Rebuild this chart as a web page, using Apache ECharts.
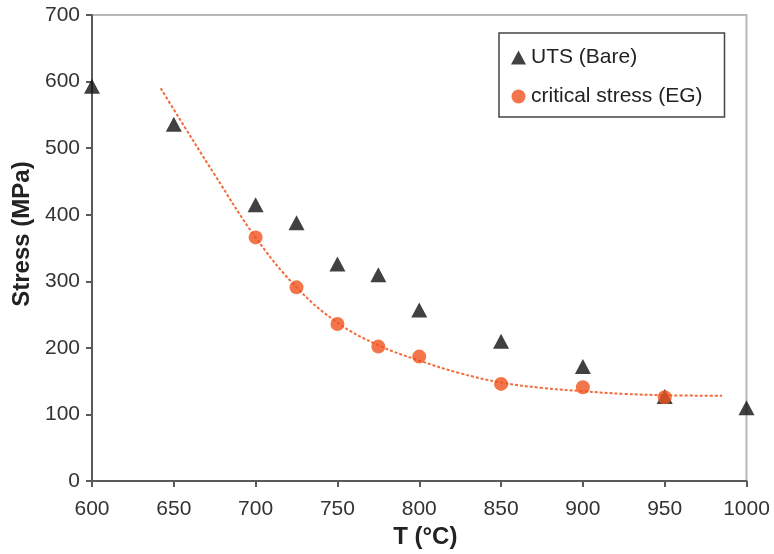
<!DOCTYPE html>
<html>
<head>
<meta charset="utf-8">
<title>Stress vs temperature</title>
<script src="https://cdn.jsdelivr.net/npm/echarts@6/dist/echarts.min.js"></script>
<style>
  html, body { margin: 0; padding: 0; background: #fff; }
  #chart { width: 774px; height: 554px; }
</style>
</head>
<body>
<div id="chart"></div>
<script>
// Temperatures (°C) and measured stresses (MPa)
const utsTemps = [600, 650, 700, 725, 750, 775, 800, 850, 900, 950, 1000];
const utsBare = [593, 536, 415, 388, 326, 310, 257, 210, 172, 127, 110];

const critTemps = [700, 725, 750, 775, 800, 850, 900, 950];
const critStressEG = [366, 291, 236, 202, 187, 146, 141, 126];

// Trend curve through the critical stress points
const trendTemps = [642, 650, 675, 700, 725, 750, 775, 800, 825, 850, 875, 900, 925, 950, 985];
const trendStress = [590, 558, 460, 366, 291, 238, 204, 181, 162, 148, 140, 135, 131, 129, 128];

const xTicks = { min: 600, max: 1000, step: 50 };
const yTicks = { min: 0, max: 700, step: 100 };

const zip = (xs, ys) => xs.map((x, i) => [x, ys[i]]);

const FONT = "'Liberation Sans', Arial, sans-serif";
const ORANGE = '#f0521e';

const chart = echarts.init(document.getElementById('chart'), null, { renderer: 'canvas' });

chart.setOption({
  animation: false,
  backgroundColor: '#ffffff',
  grid: {
    left: 92, right: 27.5, top: 15, bottom: 72.5,
    show: true, borderColor: '#b8b8b8', borderWidth: 2
  },
  xAxis: {
    type: 'value',
    min: xTicks.min, max: xTicks.max, interval: xTicks.step,
    name: 'T (°C)',
    nameLocation: 'middle',
    nameGap: 41,
    nameTextStyle: { fontFamily: FONT, fontSize: 24, fontWeight: 'bold', color: '#222', padding: [0, 0, 0, 12] },
    axisLine: { show: true, lineStyle: { color: '#5a5a5a', width: 2 } },
    axisTick: { show: true, inside: false, length: 6, lineStyle: { color: '#5a5a5a', width: 2 } },
    axisLabel: { fontFamily: FONT, fontSize: 21, color: '#333', margin: 18, formatter: v => String(v) },
    splitLine: { show: false }
  },
  yAxis: {
    type: 'value',
    min: yTicks.min, max: yTicks.max, interval: yTicks.step,
    name: 'Stress (MPa)',
    nameLocation: 'middle',
    nameGap: 57,
    nameTextStyle: { fontFamily: FONT, fontSize: 24, fontWeight: 'bold', color: '#222', padding: [0, 0, 0, 28] },
    axisLine: { show: true, lineStyle: { color: '#5a5a5a', width: 2 } },
    axisTick: { show: true, inside: false, length: 6, lineStyle: { color: '#5a5a5a', width: 2 } },
    axisLabel: { fontFamily: FONT, fontSize: 21, color: '#333', margin: 12 },
    splitLine: { show: false }
  },
  legend: {
    orient: 'vertical',
    left: 499, top: 33,
    padding: [14, 22, 10, 12],
    itemGap: 18,
    itemWidth: 15, itemHeight: 14,
    itemTextGap: 5,
    borderColor: '#444', borderWidth: 1.5, borderRadius: 0,
    textStyle: { fontFamily: FONT, fontSize: 21, color: '#222' },
    data: [
      { name: 'UTS (Bare)', icon: 'triangle' },
      { name: 'critical stress (EG)', icon: 'circle' }
    ]
  },
  series: [
    {
      name: 'trend',
      type: 'line',
      data: zip(trendTemps, trendStress),
      smooth: 0.4,
      showSymbol: false,
      symbol: 'none',
      silent: true,
      lineStyle: { color: '#f26b3c', width: 2, type: [3, 2] },
      z: 1
    },
    {
      name: 'UTS (Bare)',
      type: 'scatter',
      data: zip(utsTemps, utsBare),
      symbol: 'triangle',
      symbolSize: [16, 15],
      itemStyle: { color: '#111' },
      z: 2
    },
    {
      name: 'critical stress (EG)',
      type: 'scatter',
      data: zip(critTemps, critStressEG),
      symbol: 'circle',
      symbolSize: 14,
      itemStyle: { color: ORANGE },
      z: 3
    }
  ]
});
</script>
</body>
</html>
